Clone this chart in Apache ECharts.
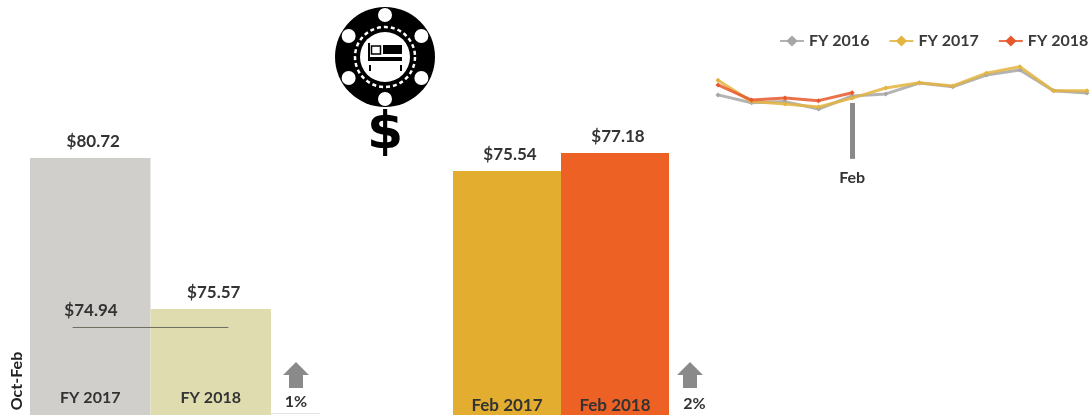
<!DOCTYPE html>
<html><head><meta charset="utf-8">
<style>html,body{margin:0;padding:0;background:#fff}#c{width:1090px;height:415px}</style>
<script src="https://cdn.jsdelivr.net/npm/echarts@6/dist/echarts.min.js"></script>
</head><body><div id="c"></div>
<script>
const fyCategories = ['FY 2017', 'FY 2018'];
const fyValues = [80.72, 75.57];
const fyColors = ['#D1CFCB', '#DFDDB0'];
const fyReference = 74.94;
const febCategories = ['Feb 2017', 'Feb 2018'];
const febValues = [75.54, 77.18];
const febColors = ['#E3AE30', '#EE6125'];
const months = ['Oct','Nov','Dec','Jan','Feb','Mar','Apr','May','Jun','Jul','Aug','Sep'];
const fy2016 = [76.5,74.05,74.4,72.1,76.15,76.8,80.2,79.05,82.7,84.3,77.8,77.1];
const fy2017 = [81.1,74.4,73.65,72.7,75.5,78.65,80.3,79.3,83.3,85.3,77.8,77.8];
const fy2018 = [79.6,74.9,75.5,74.7,77.18,null,null,null,null,null,null,null];
const FONT = 'Lato, "Open Sans", sans-serif';
const INK = '#333';
const label = {show:true, position:'top', offset:[3,0], fontFamily:FONT, fontWeight:'bold', fontSize:17, color:INK, distance:8,
  formatter:p=>'$'+p.value.toFixed(2)};
const lineSeries = (name,data,color)=>({name,type:'line',xAxisIndex:2,yAxisIndex:2,data,color,
  symbol:'diamond',symbolSize:5,lineStyle:{width:3,color,opacity:.85},itemStyle:{color}});
const CX=385, CY=57;
const chipSpots = [0,60,120,180,240,300].map(a=>({type:'circle',shape:{cx:CX+42*Math.sin(a*Math.PI/180),cy:CY-42*Math.cos(a*Math.PI/180),r:7},style:{fill:'#fff'}}));
const rect=(x,y,w,h,fill='#000')=>({type:'rect',shape:{x,y,width:w,height:h},style:{fill}});
const arrow=(cx,top)=>({type:'polygon',shape:{points:[[cx,top],[cx+13,top+13],[cx+7,top+13],[cx+7,top+26],[cx-7,top+26],[cx-7,top+13],[cx-13,top+13]]},style:{fill:'#8A8A8A'}});
const text=(x,y,t,size=14,extra={})=>({type:'text',x,y,style:{text:t,font:`bold ${size}px ${FONT}`,fill:INK,align:'center',verticalAlign:'middle',...extra}});
const option = {
  animation:false,
  backgroundColor:'#fff',
  legend:{data:['FY 2016','FY 2017','FY 2018'],left:779,top:33,width:311,padding:0,itemWidth:24,itemHeight:14,itemGap:19,selectedMode:false,
    textStyle:{fontFamily:FONT,fontWeight:'bold',fontSize:16,color:'#3a3a3a'}},
  grid:[
    {left:30,top:158,width:241,height:257},
    {left:453,top:153,width:216,height:262},
    {left:718,top:51.7,width:369,height:128}
  ],
  xAxis:[
    {gridIndex:0,type:'category',data:fyCategories,z:10,axisTick:{show:false},axisLine:{show:false},
      axisLabel:{inside:true,margin:9,fontFamily:FONT,fontWeight:'bold',fontSize:16,color:INK}},
    {gridIndex:1,type:'category',data:febCategories,z:10,axisTick:{show:false},axisLine:{show:false},
      axisLabel:{inside:true,margin:1,fontFamily:FONT,fontWeight:'bold',fontSize:17,color:INK}},
    {gridIndex:2,type:'category',data:months,boundaryGap:false,show:false},
    {gridIndex:0,type:'value',min:0,max:2,show:false}
  ],
  yAxis:[
    {gridIndex:0,type:'value',min:71.955,max:80.72,show:false},
    {gridIndex:1,type:'value',min:53.32,max:77.18,show:false},
    {gridIndex:2,type:'value',min:50,max:90,show:false}
  ],
  series:[
    {type:'bar',xAxisIndex:0,yAxisIndex:0,data:fyValues,barCategoryGap:0,label,
      itemStyle:{color:p=>fyColors[p.dataIndex]}},
    {type:'line',xAxisIndex:3,yAxisIndex:0,symbol:'circle',symbolSize:1,showSymbol:true,showAllSymbol:true,z:5,
      lineStyle:{width:1,color:'#6F6F60'},itemStyle:{color:'#6F6F60'},
      data:[{value:[0.357,fyReference],
             label:{show:true,position:'top',distance:8,offset:[18,0],formatter:'$'+fyReference.toFixed(2),
               fontFamily:FONT,fontWeight:'bold',fontSize:17,color:INK}},
            {value:[1.643,fyReference]}]},
    {type:'bar',xAxisIndex:1,yAxisIndex:1,data:febValues,barCategoryGap:0,label,
      itemStyle:{color:p=>febColors[p.dataIndex]}},
    lineSeries('FY 2016',fy2016,'#A6A6A6'),
    lineSeries('FY 2017',fy2017,'#E3B43F'),
    {...lineSeries('FY 2018',fy2018,'#E8582C'),
      markLine:{silent:true,symbol:'none',lineStyle:{color:'#8A8A8A',width:5,type:'solid'},
        label:{show:true,position:'end',formatter:'Feb',distance:11,fontFamily:FONT,fontWeight:'bold',fontSize:16,color:INK},
        data:[[{coord:['Feb',74]},{coord:['Feb',56.5]}]]}}
  ],
  graphic:[
    {type:'circle',shape:{cx:CX,cy:CY,r:50},style:{fill:'#000'}},
    ...chipSpots,
    {type:'circle',shape:{cx:CX,cy:CY,r:30},style:{fill:'none',stroke:'#fff',lineWidth:2.5,lineDash:[4,3]}},
    {type:'circle',shape:{cx:CX,cy:CY,r:25},style:{fill:'#fff'}},
    rect(383,45,19,9),
    rect(368,57,34,4),
    rect(368,43,2,18),
    {type:'rect',shape:{x:371.5,y:46,width:9,height:8},style:{fill:'#fff',stroke:'#000',lineWidth:1.5}},
    rect(369,65,2,6),
    rect(400,65,2,6),
    {type:'text',x:385,y:134,style:{text:'$',font:'bold 52px "DejaVu Sans", sans-serif',fill:'#000',align:'center',verticalAlign:'middle'}},
    arrow(296,362),
    arrow(690,362),
    text(296,402,'1%',16),
    text(694.5,404,'2%',16),
    {type:'text',x:17,y:381,rotation:Math.PI/2,style:{text:'Oct-Feb',font:`bold 16px ${FONT}`,fill:'#222',align:'center',verticalAlign:'middle'}},
    rect(271,413,49,1,'#E4E4E4')
  ]
};
echarts.init(document.getElementById('c'),null,{renderer:'canvas'}).setOption(option);
</script></body></html>
